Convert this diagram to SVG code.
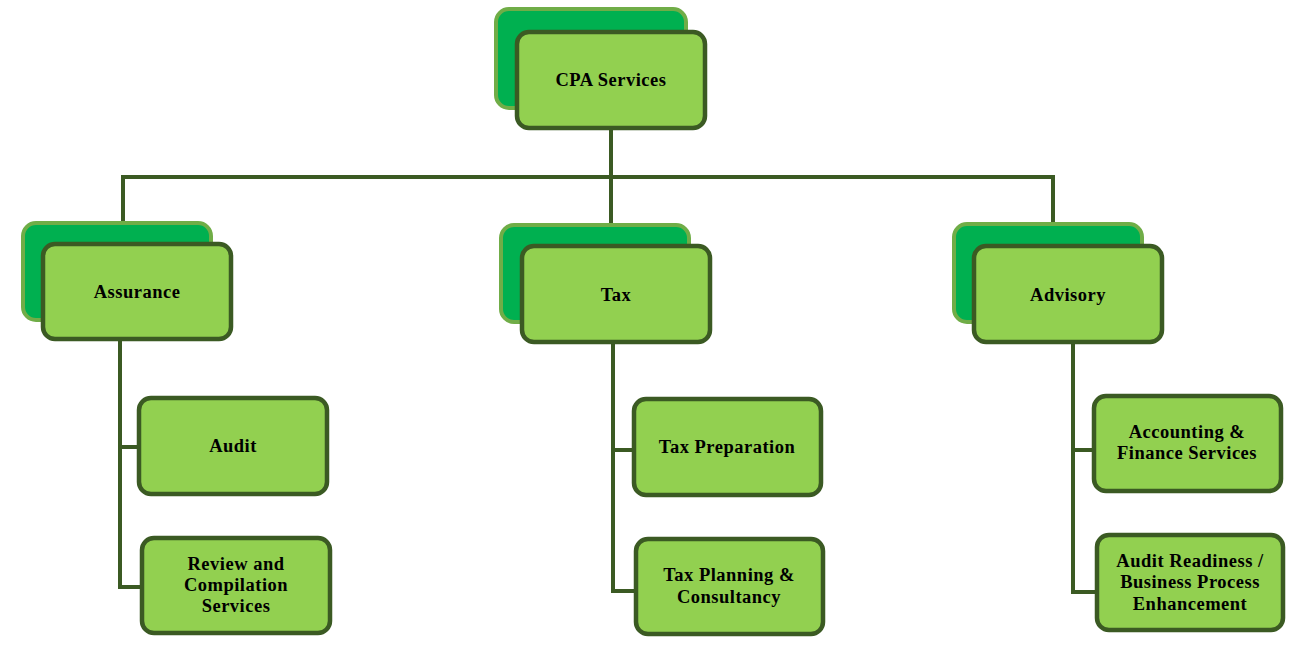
<svg xmlns="http://www.w3.org/2000/svg" width="1306" height="652" viewBox="0 0 1306 652">
<style>
.back{fill:#00B050;stroke:#70AD47;stroke-width:4}
.front{fill:#92D050;stroke:#3B5A23;stroke-width:4.5}
.t{font-family:"Liberation Serif","Times New Roman",serif;font-weight:bold;font-size:18.5px;letter-spacing:0.5px;fill:#000;text-anchor:middle}
.c{fill:none;stroke:#3B5A23;stroke-width:4}
</style>
<rect width="1306" height="652" fill="#fff"/>
<g id="connectors">
<path class="c" d="M611,129 V224 M123,222 V177 H1053 V224"/>
<path class="c" d="M120,340 V587 H140 M120,447 H137"/>
<path class="c" d="M613,343 V591 H634 M613,450 H632"/>
<path class="c" d="M1073,344 V592 H1095 M1073,450 H1092"/>
</g>
<g id="cpa">
<rect class="back" x="496" y="9" width="190" height="99" rx="13"/>
<rect class="front" x="517" y="32" width="188" height="96" rx="12"/>
<text class="t" x="611" y="86">CPA Services</text>
</g>
<g id="assurance">
<rect class="back" x="23" y="223" width="188" height="97" rx="13"/>
<rect class="front" x="43" y="244" width="188" height="95" rx="12"/>
<text class="t" x="137" y="298">Assurance</text>
</g>
<g id="tax">
<rect class="back" x="501" y="225" width="188" height="97" rx="13"/>
<rect class="front" x="522" y="246" width="188" height="96" rx="12"/>
<text class="t" x="616" y="301">Tax</text>
</g>
<g id="advisory">
<rect class="back" x="954" y="224" width="188" height="98" rx="13"/>
<rect class="front" x="974" y="246" width="188" height="96" rx="12"/>
<text class="t" x="1068" y="301">Advisory</text>
</g>
<g id="audit">
<rect class="front" x="139" y="398" width="188" height="96" rx="12"/>
<text class="t" x="233" y="452">Audit</text>
</g>
<g id="review">
<rect class="front" x="142" y="538" width="188" height="95" rx="12"/>
<text class="t" x="236" y="570">Review and</text>
<text class="t" x="236" y="591">Compilation</text>
<text class="t" x="236" y="612">Services</text>
</g>
<g id="taxprep">
<rect class="front" x="634" y="399" width="187" height="96" rx="12"/>
<text class="t" x="727" y="453">Tax Preparation</text>
</g>
<g id="taxplan">
<rect class="front" x="636" y="539" width="187" height="95" rx="12"/>
<text class="t" x="729" y="581">Tax Planning &amp;</text>
<text class="t" x="729" y="603">Consultancy</text>
</g>
<g id="accounting">
<rect class="front" x="1094" y="396" width="187" height="95" rx="12"/>
<text class="t" x="1187" y="438">Accounting &amp;</text>
<text class="t" x="1187" y="459">Finance Services</text>
</g>
<g id="readiness">
<rect class="front" x="1097" y="535" width="186" height="95" rx="12"/>
<text class="t" x="1190" y="567">Audit Readiness /</text>
<text class="t" x="1190" y="588">Business Process</text>
<text class="t" x="1190" y="610">Enhancement</text>
</g>
</svg>
